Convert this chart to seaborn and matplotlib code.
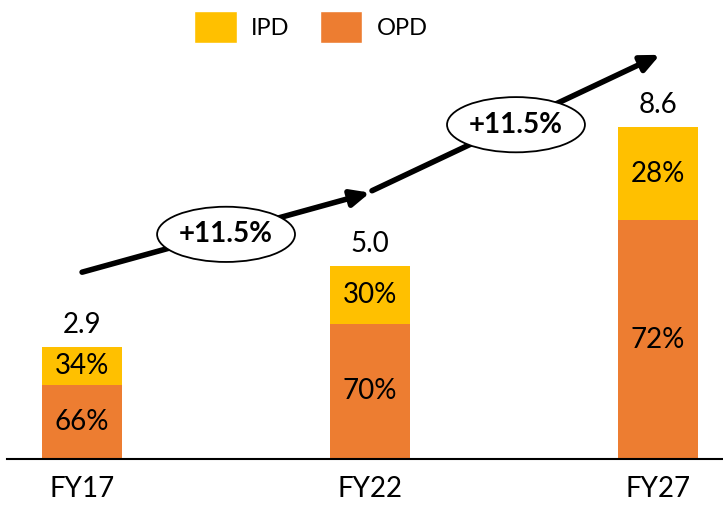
import matplotlib
matplotlib.use("Agg")
import matplotlib.pyplot as plt
import seaborn as sns
import pandas as pd
from matplotlib.patches import Patch, Ellipse

# Chart data
years = ["FY17", "FY22", "FY27"]
totals = [2.9, 5.0, 8.6]
ipd_share = [34, 30, 28]
opd_share = [66, 70, 72]
cagr_labels = ["+11.5%", "+11.5%"]

ipd_color = "#FFC000"
opd_color = "#ED7D31"

sns.set_style("white")
plt.rcParams["font.family"] = ["Lato", "DejaVu Sans"]
plt.rcParams["text.color"] = "black"
plt.rcParams["xtick.color"] = "black"

df = pd.DataFrame({"year": years, "total": totals, "opd_pct": opd_share, "ipd_pct": ipd_share})
df["opd"] = df["total"] * df["opd_pct"] / 100

fig = plt.figure(figsize=(7.23, 5.05), dpi=100)
ax = fig.add_axes([0.01, 0.091, 0.99, 0.909])

# full bar in IPD colour, OPD part drawn over it
sns.barplot(data=df, x="year", y="total", color=ipd_color, width=0.278, saturation=1, linewidth=0, ax=ax)
sns.barplot(data=df, x="year", y="opd", color=opd_color, width=0.278, saturation=1, linewidth=0, ax=ax)

ax.set_xlim(-0.26, 2.226)
ax.set_ylim(0, 11.89)
ax.set_xlabel("")
ax.set_ylabel("")
ax.set_yticks([])
for s in ["top", "right", "left"]:
    ax.spines[s].set_visible(False)
ax.spines["bottom"].set_color("black")
ax.spines["bottom"].set_linewidth(1.5)
ax.tick_params(axis="x", length=0, pad=12, labelsize=20)

# labels
for i, row in df.iterrows():
    ax.text(i, row["opd"] / 2, f"{row['opd_pct']}%", ha="center", va="center", fontsize=20)
    ax.text(i, (row["opd"] + row["total"]) / 2, f"{row['ipd_pct']}%", ha="center", va="center", fontsize=20)
    ax.text(i, row["total"] + 0.58, f"{row['total']:.1f}", ha="center", va="center", fontsize=20)

# growth arrows with ellipse labels
arrows = [((0.0, 4.84), (1.0, 6.9)), ((1.007, 6.95), (2.007, 10.47))]
for (start, end), lab in zip(arrows, cagr_labels):
    ax.annotate("", xy=end, xytext=start,
                arrowprops=dict(arrowstyle="-|>,head_length=1.1,head_width=0.5",
                                color="black", lw=4, shrinkA=0, shrinkB=0))
    cx = (start[0] + end[0]) / 2
    cy = (start[1] + end[1]) / 2 - 0.05
    ax.add_patch(Ellipse((cx, cy), 0.479, 1.43, facecolor="white", edgecolor="black", lw=1.3, zorder=5))
    ax.text(cx, cy, lab, ha="center", va="center", fontsize=20, fontweight="bold", zorder=6)

handles = [Patch(facecolor=ipd_color, label="IPD"), Patch(facecolor=opd_color, label="OPD")]
fig.legend(handles=handles, loc="upper center", bbox_to_anchor=(0.43, 1.02), ncol=2, frameon=False,
           fontsize=17, handlelength=1.8, handleheight=1.7, handletextpad=0.6, columnspacing=1.3)

plt.savefig("out.png", dpi=100)
